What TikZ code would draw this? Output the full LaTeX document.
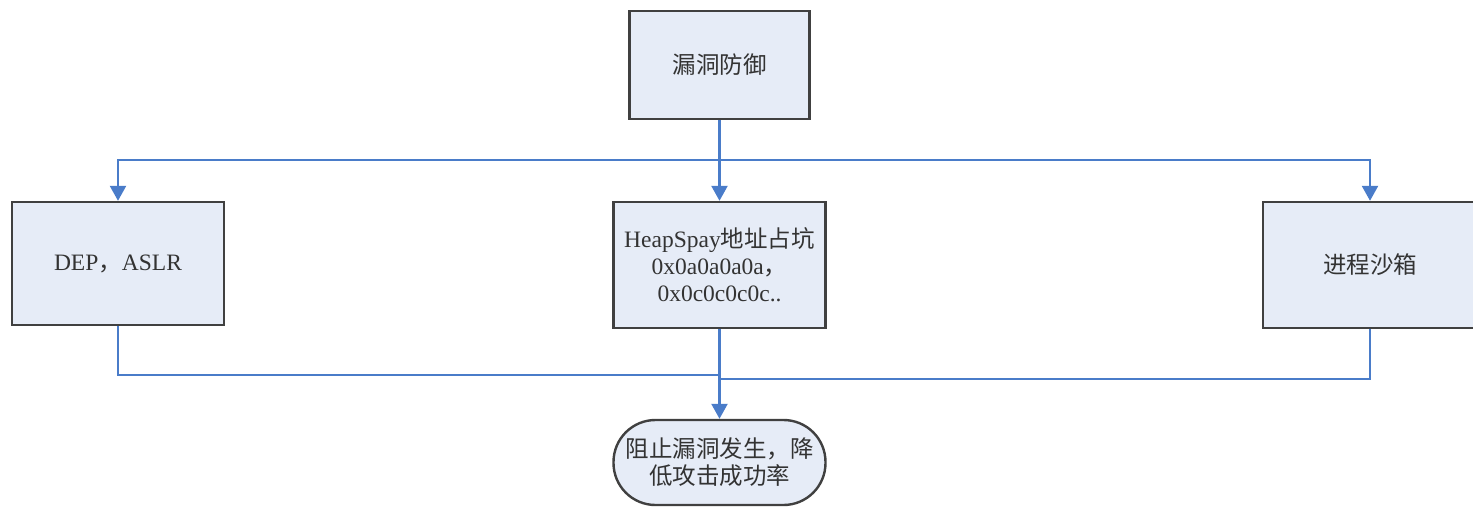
\documentclass[tikz,border=0pt]{standalone}
\usepackage{fontspec}
\setmainfont{Liberation Serif}
\newfontfamily\cjk{Noto Sans CJK SC}
\usetikzlibrary{arrows.meta}
\definecolor{boxfill}{RGB}{230,236,247}
\definecolor{boxline}{RGB}{64,64,64}
\definecolor{conn}{RGB}{74,124,201}
\definecolor{txt}{RGB}{51,51,51}
\begin{document}
\begin{tikzpicture}[x=1pt,y=-1pt,
  procbox/.style={draw=boxline, line width=2.4pt, fill=boxfill, text=txt, align=center,
    inner sep=0pt, font=\fontsize{23.5pt}{27pt}\selectfont},
  termbox/.style={procbox, rounded corners=42pt},
  link/.style={draw=conn, line width=2.4pt},
  arr/.style={link, -{Triangle[length=15pt,width=16pt]}}
]
\useasboundingbox (0,0) rectangle (1473,508);
\node[procbox, minimum width=180pt, minimum height=108pt] (top) at (719.5,65) {\cjk 漏洞防御};
\node[procbox, minimum width=212pt, minimum height=123pt] (left) at (118,263.5) {DEP{\cjk ，}ASLR};
\node[procbox, minimum width=212pt, minimum height=126pt] (mid) at (719.5,265) {HeapSpay{\cjk 地址占坑}\\0x0a0a0a0a{\cjk ，}\\0x0c0c0c0c..};
\node[procbox, minimum width=214pt, minimum height=126pt] (right) at (1370,265) {\cjk 进程沙箱};
\node[termbox, minimum width=212pt, minimum height=85pt] (end) at (719.5,462.5) {\cjk 阻止漏洞发生，降\\\cjk 低攻击成功率};
\coordinate (split) at (719.5,160);
\coordinate (joinL) at (719.5,375);
\coordinate (joinR) at (719.5,379);
\draw[arr] (top.south) -- (mid.north);
\draw[arr] (split) -| (left.north);
\draw[arr] (split) -| (right.north);
\draw[link] (left.south) |- (joinL);
\draw[link] (right.south) |- (joinR);
\draw[arr] (mid.south) -- (end.north);
\end{tikzpicture}
\end{document}
